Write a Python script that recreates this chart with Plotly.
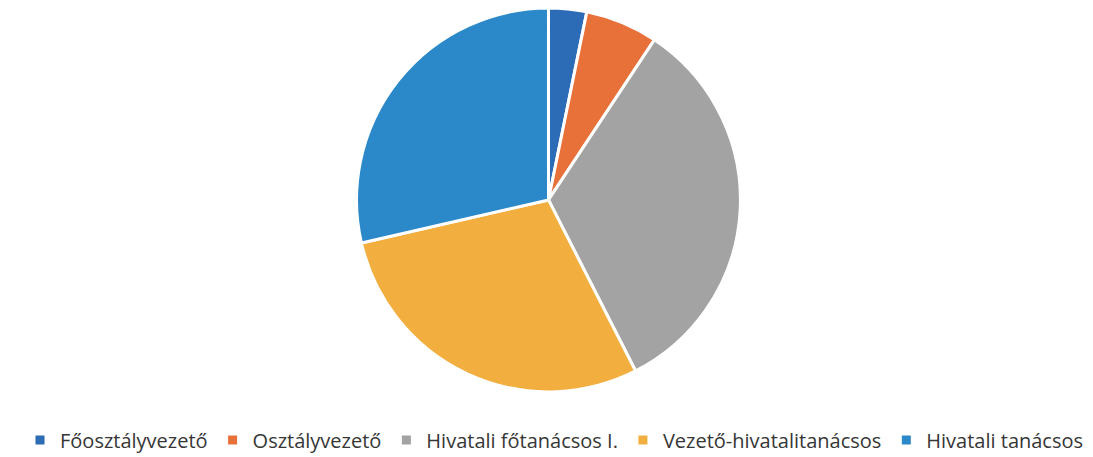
import plotly.graph_objects as go

labels = ["Főosztályvezető", "Osztályvezető", "Hivatali főtanácsos I.",
          "Vezető-hivatalitanácsos", "Hivatali tanácsos"]
values = [3.2, 6.1, 33.2, 28.9, 28.6]
colors = ["#2C6BB6", "#E8713A", "#A3A3A3", "#F2AE3E", "#2B88C9"]

fig = go.Figure(go.Pie(
    labels=labels, values=values, sort=False, direction="clockwise", rotation=0,
    marker=dict(colors=colors, line=dict(color="white", width=3)),
    textinfo="none", hoverinfo="label+percent",
    domain=dict(x=[0, 0.989], y=[0.16, 1.0]),
))
fig.update_layout(
    width=1093, height=457,
    margin=dict(l=0, r=0, t=0, b=0),
    paper_bgcolor="white", plot_bgcolor="white",
    font=dict(family="Open Sans, sans-serif", size=20, color="#363636"),
    legend=dict(orientation="h", x=0.5, xanchor="center", y=0.012, yanchor="bottom",
                font=dict(size=20), itemwidth=30, traceorder="normal"),
)
fig.write_html("out.html")
